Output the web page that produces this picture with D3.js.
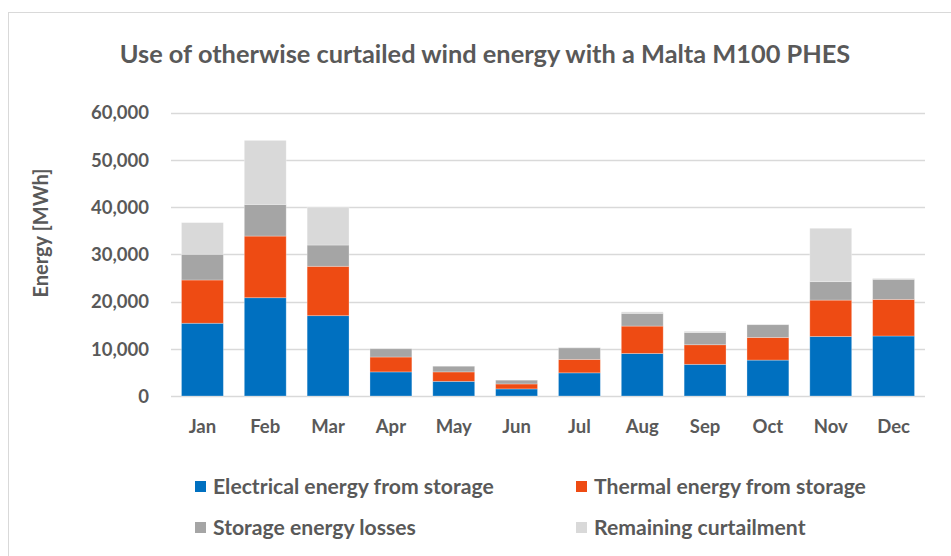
<!DOCTYPE html>
<html>
<head>
<meta charset="utf-8">
<script src="https://cdn.jsdelivr.net/npm/d3@7"></script>
<style>
  body { margin: 0; background: #fff; }
  text { font-family: Lato, "Open Sans", sans-serif; font-weight: bold; fill: #595959; }
</style>
</head>
<body>
<div id="chart"></div>
<script>
// data (MWh)
const months = ["Jan", "Feb", "Mar", "Apr", "May", "Jun", "Jul", "Aug", "Sep", "Oct", "Nov", "Dec"]
const electrical = [15400, 20800, 17000, 5100, 3100, 1500, 4900, 9000, 6700, 7600, 12600, 12700]
const thermal = [9150, 13050, 10450, 3150, 2000, 1050, 2850, 5800, 4150, 4800, 7700, 7750]
const losses = [5450, 6700, 4500, 1750, 1200, 800, 2450, 2700, 2600, 2700, 3900, 4250]
const remaining = [6700, 13550, 8000, 0, 0, 0, 100, 300, 250, 100, 11300, 200]
const yTicks = [0, 10000, 20000, 30000, 40000, 50000, 60000]

const seriesNames = ["Electrical energy from storage", "Thermal energy from storage",
    "Storage energy losses", "Remaining curtailment"]
const seriesKeys = ["electrical", "thermal", "losses", "remaining"]
const colors = ["#0070C0", "#EE4B13", "#A5A5A5", "#D9D9D9"]

const width = 951, height = 556
const margin = {top: 112, right: 26, bottom: 160, left: 171}

const svg = d3.select("#chart")
    .append("svg")
    .attr("width", width)
    .attr("height", height)

// chart frame (runs off the right and bottom edges)
svg.append("rect")
    .attr("x", 8.5).attr("y", 12.5)
    .attr("width", width + 20).attr("height", height + 20)
    .attr("fill", "none")
    .attr("stroke", "#D9D9D9")

const table = months.map((m, i) => ({
    month: m,
    electrical: electrical[i],
    thermal: thermal[i],
    losses: losses[i],
    remaining: remaining[i]
}))

const x = d3.scaleBand()
    .domain(months)
    .range([margin.left, width - margin.right])
    .paddingInner(1 / 3)
    .paddingOuter(1 / 6)

const y = d3.scaleLinear()
    .domain([0, 60000])
    .range([396, 112.5])

// gridlines
svg.append("g")
    .selectAll("line")
    .data(yTicks)
    .join("line")
    .attr("x1", margin.left)
    .attr("x2", width - margin.right)
    .attr("y1", d => Math.round(y(d)) + 0.5)
    .attr("y2", d => Math.round(y(d)) + 0.5)
    .attr("stroke", "#D9D9D9")
    .attr("stroke-width", 1.3)

// y axis labels
const yAxis = svg.append("g")
    .attr("transform", `translate(${margin.left - 22},0)`)
    .call(d3.axisLeft(y).tickValues(yTicks).tickFormat(d3.format(",")).tickSize(0).tickPadding(0))
yAxis.select(".domain").remove()
yAxis.selectAll("text")
    .style("font-size", "18.5px")
    .attr("dy", "0.35em")

// x axis labels
const xAxis = svg.append("g")
    .attr("transform", `translate(0,${y(0)})`)
    .call(d3.axisBottom(x).tickSize(0).tickPadding(0))
xAxis.select(".domain").remove()
xAxis.selectAll("text")
    .style("font-size", "18.5px")
    .attr("dy", "0")
    .attr("y", 37)

// stacked bars
const stack = d3.stack().keys(seriesKeys)(table)

svg.append("g")
    .selectAll("g")
    .data(stack)
    .join("g")
    .attr("fill", (d, i) => colors[i])
    .selectAll("rect")
    .data(d => d)
    .join("rect")
    .attr("x", d => x(d.data.month))
    .attr("width", x.bandwidth())
    .attr("y", d => y(d[1]))
    .attr("height", d => y(d[0]) - y(d[1]))
    .attr("stroke", "#ffffff")
    .attr("stroke-opacity", 0.35)
    .attr("stroke-width", 0.8)

// title
const title = svg.append("text")
    .attr("x", 485)
    .attr("y", 63)
    .attr("text-anchor", "middle")
    .style("font-size", "22px")
    .text("Use of otherwise curtailed wind energy with a Malta M100 PHES")
// fit to the reference width
const tw = title.node().getComputedTextLength()
title.style("font-size", (22 * 731 / tw).toFixed(2) + "px")

// y axis title
svg.append("text")
    .attr("transform", "translate(48,233) rotate(-90)")
    .attr("text-anchor", "middle")
    .style("font-size", "20px")
    .text("Energy [MWh]")

// legend
const legendX = [195, 576]
const legendY = [487, 528]
const legend = svg.append("g")
    .selectAll("g")
    .data(seriesNames)
    .join("g")
    .attr("transform", (d, i) => `translate(${legendX[i % 2]},${legendY[Math.floor(i / 2)]})`)
legend.append("rect")
    .attr("x", 0).attr("y", -6)
    .attr("width", 11).attr("height", 11)
    .attr("fill", (d, i) => colors[i])
const legendText = legend.append("text")
    .attr("x", 18)
    .attr("dy", "0.35em")
    .style("font-size", "20px")
    .text(d => d)
// match the legend label width seen in the reference
const lw = legendText.node().getComputedTextLength()
legendText.style("font-size", (20 * 281 / lw).toFixed(2) + "px")
</script>
</body>
</html>
